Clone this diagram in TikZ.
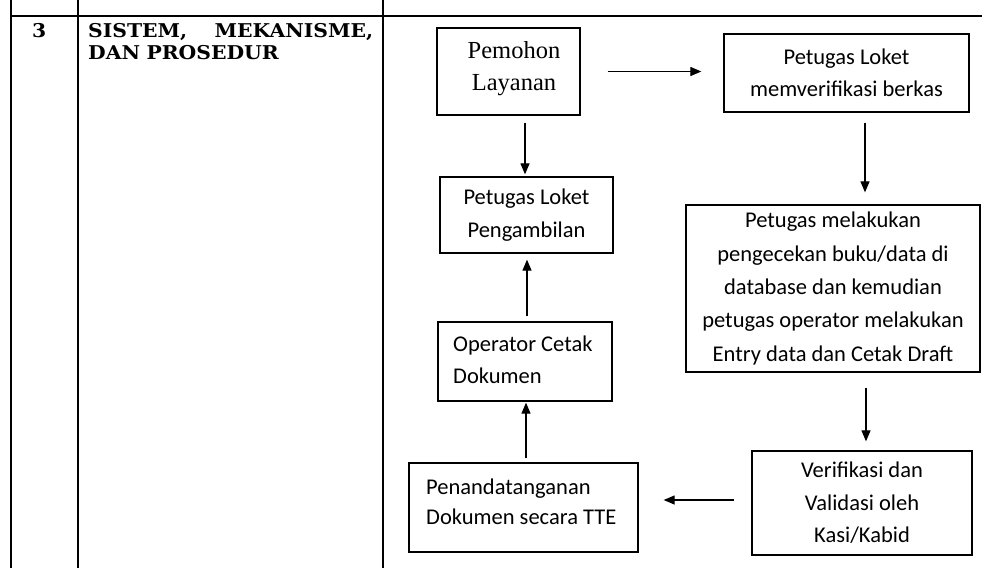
\documentclass[tikz,border=0pt]{standalone}
\usepackage{fontspec}
\setmainfont{Carlito}
\newfontfamily\tnr{Liberation Serif}
\newfontfamily\hdr[FakeStretch=1.07]{DejaVu Serif}
\usetikzlibrary{arrows.meta,calc}
\begin{document}
\begin{tikzpicture}[x=1pt,y=-1pt,
  box/.style={draw, line width=1.3pt, inner sep=0pt, align=center,
    font=\fontsize{22.5}{32.5}\selectfont},
  txt/.style={inner sep=0pt, align=left, anchor=west, font=\fontsize{22.5}{32.5}\selectfont},
  arr/.style={line width=1.2pt, -{Triangle[length=11pt,width=9pt]}},
  tbl/.style={line width=1.8pt},
  hd/.style={inner sep=0pt, anchor=north west, font=\hdr\bfseries\fontsize{19}{22}\selectfont}]
\useasboundingbox (0,0) rectangle (982,568);
\fill[white] (0,0) rectangle (982,568);
% table
\draw[tbl] (11,0) -- (11,568);
\draw[tbl] (78,0) -- (78,568);
\draw[tbl] (383,0) -- (383,568);
\draw[tbl] (11,16) -- (982,16);
\node[hd] (num) at (32,23) {3};
\node[hd, text width=285pt, align=left] (title) at (88,23) {SISTEM,\hfill MEKANISME,\\DAN PROSEDUR};
% boxes
\node[box, minimum width=143pt, minimum height=87pt] (pem) at (508.5,71.5) {};
\node[inner sep=0pt, align=center, font=\tnr\fontsize{24.5}{32}\selectfont] (pemt) at (514,69) {Pemohon\\Layanan};
\node[box, minimum width=245pt, minimum height=78pt] (ver) at (846.5,73) {Petugas Loket\\memverifikasi berkas};
\node[box, minimum width=173pt, minimum height=76pt] (amb) at (526.5,215) {Petugas Loket\\Pengambilan};
\node[box, minimum width=294pt, minimum height=167pt, font=\fontsize{22.5}{33.3}\selectfont] (cek) at (833,288.5) {Petugas melakukan\\pengecekan buku/data di\\database dan kemudian\\petugas operator melakukan\\Entry data dan Cetak Draft};
\node[box, minimum width=174pt, minimum height=79pt] (opr) at (525,361.5) {};
\node[txt] (oprt) at (453,360) {Operator Cetak\\Dokumen};
\node[box, minimum width=220pt, minimum height=104pt] (vld) at (862,503) {Verifikasi dan\\Validasi oleh\\Kasi/Kabid};
\node[box, minimum width=229pt, minimum height=89pt] (ttd) at (523.5,507.5) {};
\node[txt, font=\fontsize{22.5}{30.5}\selectfont] (ttdt) at (426,502) {Penandatanganan\\Dokumen secara TTE};
% arrows
\draw[arr, shorten <=27pt, shorten >=22pt] (pem.east) -- (pem.east -| ver.west);
\draw[arr, shorten <=10pt, shorten >=12pt] ([xshift=18.5pt]ver.south) -- ([xshift=18.5pt]ver.south |- cek.north);
\draw[arr, shorten <=15pt, shorten >=9pt] ([xshift=33pt]cek.south) -- ([xshift=33pt]cek.south |- vld.north);
\draw[arr, shorten <=17pt, shorten >=25pt] ([yshift=3pt]vld.west) -- ([yshift=3pt]vld.west -| ttd.east);
\draw[arr, shorten <=4pt, shorten >=1pt] ([xshift=2.5pt]ttd.north) -- ([xshift=2.5pt]ttd.north |- opr.south);
\draw[arr, shorten <=5pt, shorten >=6pt] ([xshift=2pt]opr.north) -- ([xshift=2pt]opr.north |- amb.south);
\draw[arr, shorten <=7pt, shorten >=2pt] ([xshift=16.5pt]pem.south) -- ([xshift=16.5pt]pem.south |- amb.north);
\end{tikzpicture}
\end{document}
